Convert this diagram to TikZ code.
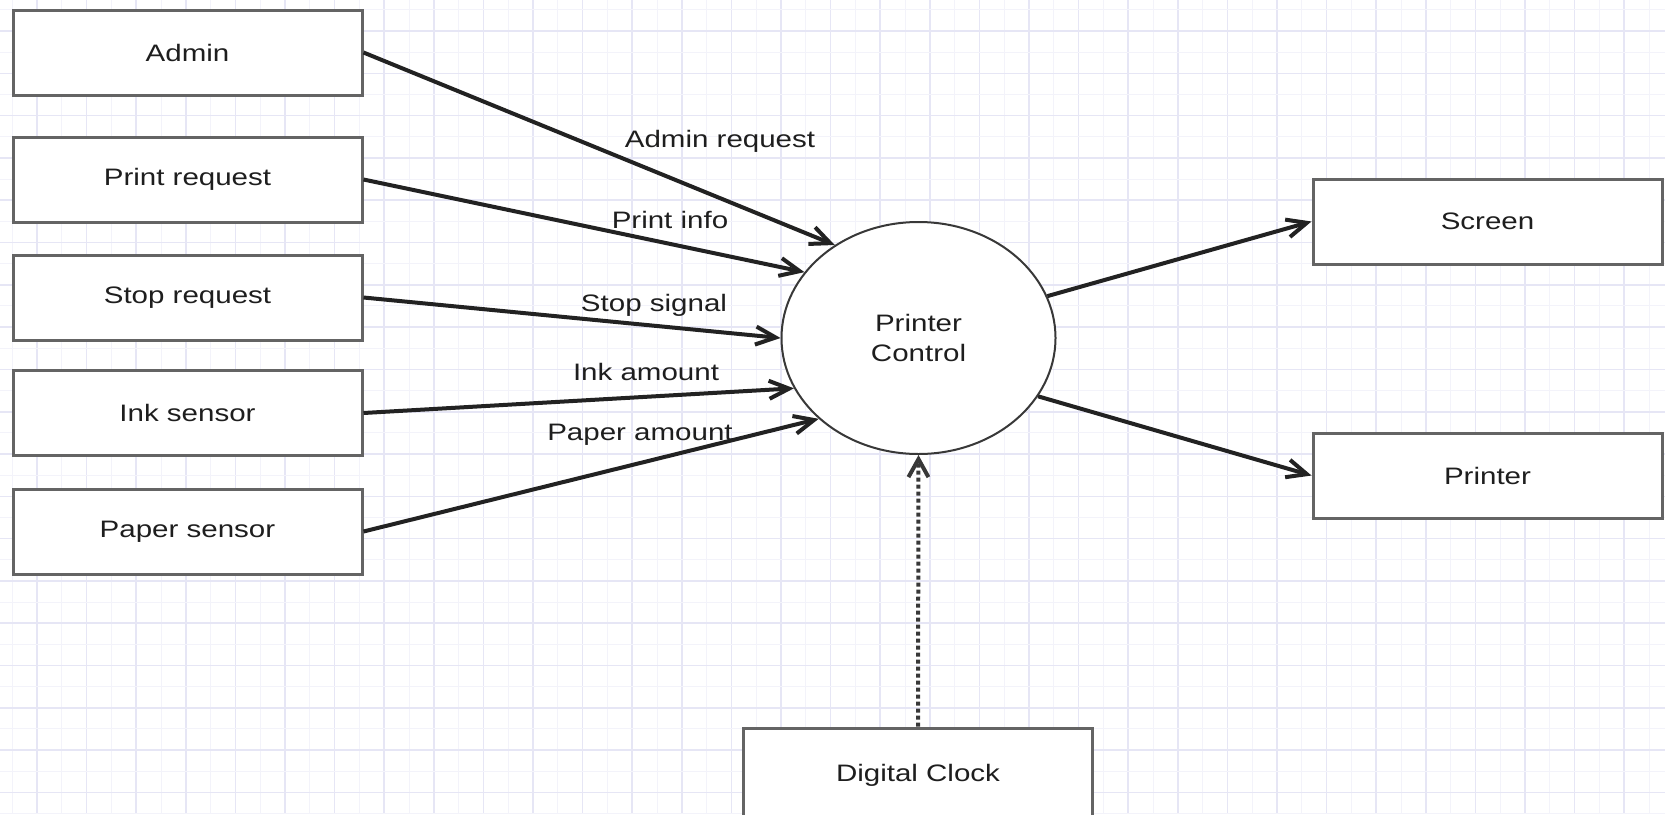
\documentclass[tikz,border=0pt]{standalone}
\usepackage{fontspec}
\setmainfont{Liberation Sans}
\usetikzlibrary{arrows.meta,shapes.geometric}
\definecolor{gridc}{RGB}{230,230,245}
\definecolor{gridm}{RGB}{243,243,250}
\definecolor{boxc}{RGB}{100,100,100}
\definecolor{linec}{RGB}{34,34,34}
\definecolor{txtc}{RGB}{30,30,30}
\newcommand{\stx}[1]{\scalebox{1.24}[1]{#1}}
\begin{document}
\begin{tikzpicture}[x=0.5pt,y=-0.5pt,
  box/.style={draw=boxc, line width=1.5pt, fill=white, minimum width=174.5pt, minimum height=42.5pt, inner sep=0pt, text=txtc, font=\fontsize{11.9}{14}\selectfont},
  proc/.style={ellipse, draw=linec!90, line width=1pt, fill=white, minimum width=137pt, minimum height=116pt, inner sep=0pt, text=txtc, align=center, font=\fontsize{11.9}{15}\selectfont},
  flow/.style={draw=linec, line width=2pt, -{Straight Barb[length=10pt,width=9pt]}},
  clockflow/.style={draw=linec!90, line width=2pt, dash pattern=on 2pt off 1.5pt, -{Straight Barb[length=9pt,width=10pt]}},
  lbl/.style={text=txtc, inner sep=0pt, font=\fontsize{11.9}{14}\selectfont}
]
\useasboundingbox (0,0) rectangle (1665,814);
\fill[white] (0,0) rectangle (1665,814);
% grid
\foreach \k in {0,...,33} {
  \draw[gridm, line width=0.5pt] ({37+49.6*\k-24.8},0) -- ({37+49.6*\k-24.8},814);
  \draw[gridc, line width=0.8pt] ({37+49.6*\k},0) -- ({37+49.6*\k},814);
}
\foreach \k in {0,...,19} {
  \draw[gridm, line width=0.5pt] (0,{31+42.3*\k-21.15}) -- (1665,{31+42.3*\k-21.15});
  \draw[gridc, line width=0.8pt] (0,{31+42.3*\k}) -- (1665,{31+42.3*\k});
}
% nodes
\node[box] (admin) at (187.5,52.5) {\stx{Admin}};
\node[box] (preq) at (187.5,179.5) {\stx{Print request}};
\node[box] (sreq) at (187.5,297.5) {\stx{Stop request}};
\node[box] (ink) at (187.5,413) {\stx{Ink sensor}};
\node[box] (paper) at (187.5,531.5) {\stx{Paper sensor}};
\node[box] (screen) at (1487.5,221.5) {\stx{Screen}};
\node[box] (printer) at (1487.5,475.5) {\stx{Printer}};
\node[box, minimum height=47.5pt] (clock) at (918,775.5) {\stx{Digital Clock}};
\node[proc] (pc) at (918.5,338) {\stx{Printer}\\\stx{Control}};
% labels
\node[lbl] (ladmin) at (720,141) {\stx{Admin request}};
\node[lbl] (lpinfo) at (670,220) {\stx{Print info}};
\node[lbl] (lstop) at (654,305) {\stx{Stop signal}};
\node[lbl] (link) at (646,372) {\stx{Ink amount}};
\node[lbl] (lpaper) at (640,435) {\stx{Paper amount}};
% connectors
\draw[flow] (admin.east) -- (pc.132);
\draw[flow] (preq.east) -- (pc.150);
\draw[flow] (sreq.east) -- (pc.180);
\draw[flow] (ink.east) -- (pc.202);
\draw[flow] (paper.east) -- (pc.219);
\draw[flow] (pc.18) -- (screen.west);
\draw[flow] (pc.334) -- (printer.west);
\draw[clockflow] (clock.north) -- (pc.south);
\end{tikzpicture}
\end{document}
